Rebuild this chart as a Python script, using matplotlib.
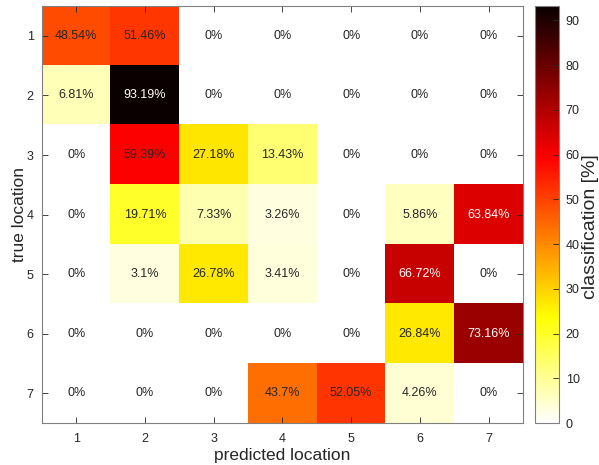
import numpy as np
import matplotlib
matplotlib.use("Agg")
import matplotlib.pyplot as plt

plt.rcParams['font.family'] = ['Liberation Sans', 'DejaVu Sans']

locations = [1, 2, 3, 4, 5, 6, 7]
# rows: true location, columns: predicted location (percent)
row_1 = [48.54, 51.46, 0, 0, 0, 0, 0]
row_2 = [6.81, 93.19, 0, 0, 0, 0, 0]
row_3 = [0, 59.39, 27.18, 13.43, 0, 0, 0]
row_4 = [0, 19.71, 7.33, 3.26, 0, 5.86, 63.84]
row_5 = [0, 3.1, 26.78, 3.41, 0, 66.72, 0]
row_6 = [0, 0, 0, 0, 0, 26.84, 73.16]
row_7 = [0, 0, 0, 43.7, 52.05, 4.26, 0]

conf = np.array([row_1, row_2, row_3, row_4, row_5, row_6, row_7])

fig = plt.figure(figsize=(5.99, 4.65), dpi=100)
ax = fig.add_axes([0.070, 0.090, 0.803, 0.897])
cax = fig.add_axes([0.893, 0.090, 0.040, 0.897])

im = ax.imshow(conf, cmap="hot_r", vmin=0, vmax=conf.max(), aspect="auto",
               extent=[0.5, 7.5, 7.5, 0.5], interpolation="nearest")

for i in range(conf.shape[0]):
    for j in range(conf.shape[1]):
        v = conf[i, j]
        txt = ("%.2f" % v).rstrip("0").rstrip(".") + "%"
        col = "white" if v > 60 else "#262626"
        ax.text(locations[j], locations[i], txt, ha="center", va="center",
                fontsize=9, color=col)

ax.set_xticks(locations)
ax.set_yticks(locations)
ax.tick_params(direction="in", top=True, right=True, labelsize=9,
               colors="#262626", length=4, width=0.6)
ax.tick_params(axis="x", pad=7)
ax.tick_params(axis="y", pad=6)
for s in ax.spines.values():
    s.set_color("#808080")
    s.set_linewidth(0.8)
ax.set_xlabel("predicted location", fontsize=12.5, color="#262626", labelpad=2)
ax.set_ylabel("true location", fontsize=12.5, color="#262626", labelpad=0)

cb = fig.colorbar(im, cax=cax)
cb.set_ticks([0, 10, 20, 30, 40, 50, 60, 70, 80, 90])
cb.ax.tick_params(direction="in", labelsize=9, colors="#262626", length=4, width=0.6, pad=5)
cb.outline.set_edgecolor("#808080")
cb.outline.set_linewidth(0.8)
cb.set_label("classification [%]", fontsize=14, color="#262626", va="center")
cb.ax.yaxis.set_label_coords(2.3, 0.47)

fig.savefig("out.png", dpi=100)
